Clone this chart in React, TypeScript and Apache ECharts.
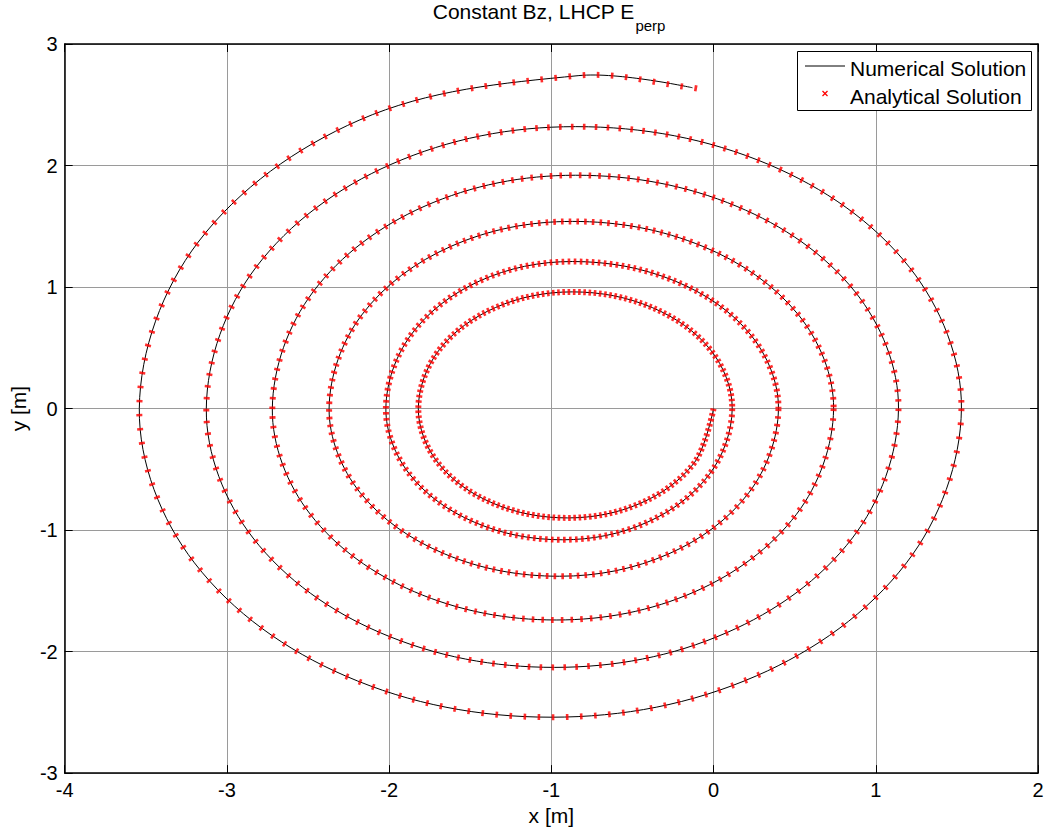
import React, { useEffect, useRef } from "react";
import * as echarts from "echarts";

// Points read along the spiral (clockwise, starting at the origin), 12 per turn
const spiralX = [
  0.0, -0.121, -0.45, -0.9, -1.36, -1.697, -1.82, -1.693, -1.345, -0.87, -0.378, -0.017,
  0.115, -0.025, -0.408, -0.93, -1.475, -1.874, -2.02, -1.866, -1.445, -0.87, -0.235, 0.23,
  0.4, 0.219, -0.275, -0.95, -1.66, -2.18, -2.37, -2.169, -1.62, -0.87, -0.065, 0.524,
  0.74, 0.511, -0.115, -0.97, -1.845, -2.486, -2.72, -2.469, -1.785, -0.85, 0.145, 0.873,
  1.14, 0.856, 0.08, -0.98, -2.054, -2.839, -3.127, -2.822, -1.989, -0.85, 0.339, 1.209,
  1.528, 1.189, 0.264, -1.0, -2.27, -3.2, -3.54, -3.177, -2.185, -0.83, -0.13,
];
const spiralY = [
  0.0, -0.45, -0.779, -0.9, -0.779, -0.45, 0.0, 0.48, 0.831, 0.96, 0.831, 0.48,
  0.0, -0.54, -0.935, -1.08, -0.935, -0.54, 0.0, 0.605, 1.048, 1.21, 1.048, 0.605,
  0.0, -0.69, -1.195, -1.38, -1.195, -0.69, 0.0, 0.77, 1.334, 1.54, 1.334, 0.77,
  0.0, -0.87, -1.507, -1.74, -1.507, -0.87, 0.0, 0.96, 1.663, 1.92, 1.663, 0.96,
  0.0, -1.065, -1.845, -2.13, -1.845, -1.065, 0.0, 1.16, 2.009, 2.32, 2.009, 1.16,
  0.0, -1.27, -2.2, -2.54, -2.2, -1.27, 0.0, 1.37, 2.373, 2.74, 2.64,
];
// The analytical markers run one step further than the numerical line
const analyticalTailX = [-0.086];
const analyticalTailY = [2.63];

const xMin = -4;
const xMax = 2;
const yMin = -3;
const yMax = 3;

const FONT = "'Liberation Sans', Arial, Helvetica, sans-serif";

// style: spacing (px) of the analytical markers on each turn (constant time step)
const MARKER_PITCH = [5.2, 6.0, 7.7, 9.7, 11.9, 14.1];
const POINTS_PER_TURN = 12;
const SMOOTH = 0.35;

type Pt = number[];

function handles(pts: Pt[]) {
  const n = pts.length;
  const inH: Pt[] = [];
  const outH: Pt[] = [];
  for (let i = 0; i < n; i++) {
    const p = pts[i];
    if (i === 0 || i === n - 1) {
      inH.push(p);
      outH.push(p);
      continue;
    }
    const a = pts[i - 1];
    const b = pts[i + 1];
    const vx = (b[0] - a[0]) * SMOOTH;
    const vy = (b[1] - a[1]) * SMOOTH;
    let d0 = Math.hypot(p[0] - a[0], p[1] - a[1]);
    let d1 = Math.hypot(b[0] - p[0], b[1] - p[1]);
    const s = d0 + d1;
    if (s) {
      d0 /= s;
      d1 /= s;
    }
    inH.push([p[0] - vx * d0, p[1] - vy * d0]);
    outH.push([p[0] + vx * d1, p[1] + vy * d1]);
  }
  return { inH, outH };
}

const f = (p: Pt) => `${p[0].toFixed(2)},${p[1].toFixed(2)}`;

function pathData(pts: Pt[], h: { inH: Pt[]; outH: Pt[] }, from: number, to: number) {
  let d = `M${f(pts[from])}`;
  for (let i = from; i < to; i++) {
    d += ` C${f(h.outH[i])} ${f(h.inH[i + 1])} ${f(pts[i + 1])}`;
  }
  return d;
}

export default function App() {
  const ref = useRef<HTMLDivElement>(null);

  useEffect(() => {
    if (!ref.current) return;
    const chart = echarts.init(ref.current, null, { renderer: "svg" });

    const numerical = spiralX.map((x, i) => [x, spiralY[i]]);
    const analytical = numerical.concat(
      analyticalTailX.map((x, i) => [x, analyticalTailY[i]])
    );

    const baseAxis = {
      type: "value",
      interval: 1,
      axisLine: { show: true, onZero: false, lineStyle: { color: "#000", width: 1.5 } },
      axisTick: { show: true, inside: true, length: 8, lineStyle: { color: "#000", width: 1 } },
      axisLabel: { show: false },
      splitLine: { show: false },
    };

    chart.setOption({
      animation: false,
      backgroundColor: "#ffffff",
      grid: { left: 60, right: 9, top: 44, bottom: 57, containLabel: false },
      xAxis: [
        {
          ...baseAxis,
          min: xMin,
          max: xMax,
          position: "bottom",
          name: "x [m]",
          nameLocation: "middle",
          nameGap: 30,
          nameTextStyle: { color: "#000", fontSize: 21, fontFamily: FONT },
          axisLabel: { show: true, color: "#000", fontSize: 20, fontFamily: FONT, margin: 7 },
          splitLine: { show: true, lineStyle: { color: "#9a9a9a", width: 1 } },
        },
        { ...baseAxis, min: xMin, max: xMax, position: "top" },
      ],
      yAxis: [
        {
          ...baseAxis,
          min: yMin,
          max: yMax,
          position: "left",
          name: "y [m]",
          nameLocation: "middle",
          nameGap: 30,
          nameTextStyle: { color: "#000", fontSize: 21, fontFamily: FONT },
          axisLabel: { show: true, color: "#000", fontSize: 20, fontFamily: FONT, margin: 7 },
          splitLine: { show: true, lineStyle: { color: "#9a9a9a", width: 1 } },
        },
        { ...baseAxis, min: yMin, max: yMax, position: "right" },
      ],
      series: [
        {
          name: "Numerical Solution",
          type: "custom",
          coordinateSystem: "cartesian2d",
          xAxisIndex: 0,
          yAxisIndex: 0,
          data: numerical,
          encode: { x: 0, y: 1 },
          silent: true,
          z: 2,
          renderItem: (params: any, api: any) => {
            if (params.dataIndex !== 0) return null;
            const pts = numerical.map((p) => api.coord(p));
            const h = handles(pts);
            return {
              type: "path",
              shape: { pathData: pathData(pts, h, 0, pts.length - 1) },
              style: { stroke: "#000000", lineWidth: 1, fill: "none" },
            };
          },
        },
        {
          name: "Analytical Solution",
          type: "custom",
          coordinateSystem: "cartesian2d",
          xAxisIndex: 0,
          yAxisIndex: 0,
          data: analytical,
          encode: { x: 0, y: 1 },
          silent: true,
          z: 3,
          renderItem: (params: any, api: any) => {
            if (params.dataIndex !== 0) return null;
            const pts = analytical.map((p) => api.coord(p));
            const h = handles(pts);
            const children: any[] = [];
            MARKER_PITCH.forEach((pitch, k) => {
              const start = k * POINTS_PER_TURN;
              const end =
                k === MARKER_PITCH.length - 1
                  ? pts.length - 1
                  : Math.min((k + 1) * POINTS_PER_TURN, pts.length - 1);
              if (end <= start) return;
              const dash = 2.6;
              children.push({
                type: "path",
                shape: { pathData: pathData(pts, h, start, end) },
                style: {
                  stroke: "#ff0000",
                  lineWidth: 6,
                  lineDash: [dash, pitch - dash],
                  lineCap: "butt",
                  fill: "none",
                  opacity: 0.82,
                },
              });
            });
            return { type: "group", children };
          },
        },
      ],
      graphic: [
        {
          type: "text",
          x: 549,
          y: 1,
          z: 100,
          style: {
            text: "{a|Constant Bz, LHCP E}{b|perp}",
            align: "center",
            verticalAlign: "top",
            fill: "#000",
            rich: {
              a: { fontSize: 21, fontFamily: FONT, lineHeight: 25, verticalAlign: "top", fill: "#000" },
              b: {
                fontSize: 15,
                fontFamily: FONT,
                lineHeight: 15,
                padding: [17, 0, 0, 1],
                verticalAlign: "top",
                fill: "#000",
              },
            },
          },
        },
        {
          type: "rect",
          z: 100,
          shape: { x: 797.5, y: 51.5, width: 234, height: 59 },
          style: { fill: "#ffffff", stroke: "#000000", lineWidth: 1 },
        },
        {
          type: "line",
          z: 101,
          shape: { x1: 805, y1: 66, x2: 845, y2: 66 },
          style: { stroke: "#000000", lineWidth: 1 },
        },
        {
          type: "line",
          z: 101,
          shape: { x1: 822.5, y1: 91, x2: 827.5, y2: 96 },
          style: { stroke: "#ff0000", lineWidth: 1.3 },
        },
        {
          type: "line",
          z: 101,
          shape: { x1: 822.5, y1: 96, x2: 827.5, y2: 91 },
          style: { stroke: "#ff0000", lineWidth: 1.3 },
        },
        {
          type: "text",
          z: 101,
          x: 850,
          y: 68,
          style: {
            text: "Numerical Solution",
            fontSize: 21,
            fontFamily: FONT,
            fill: "#000",
            verticalAlign: "middle",
            align: "left",
          },
        },
        {
          type: "text",
          z: 101,
          x: 850,
          y: 96,
          style: {
            text: "Analytical Solution",
            fontSize: 21,
            fontFamily: FONT,
            fill: "#000",
            verticalAlign: "middle",
            align: "left",
          },
        },
      ],
    });

    return () => {
      chart.dispose();
    };
  }, []);

  return (
    <div
      ref={ref}
      style={{ position: "fixed", left: 0, top: 0, width: 1047, height: 831, background: "#fff" }}
    />
  );
}
